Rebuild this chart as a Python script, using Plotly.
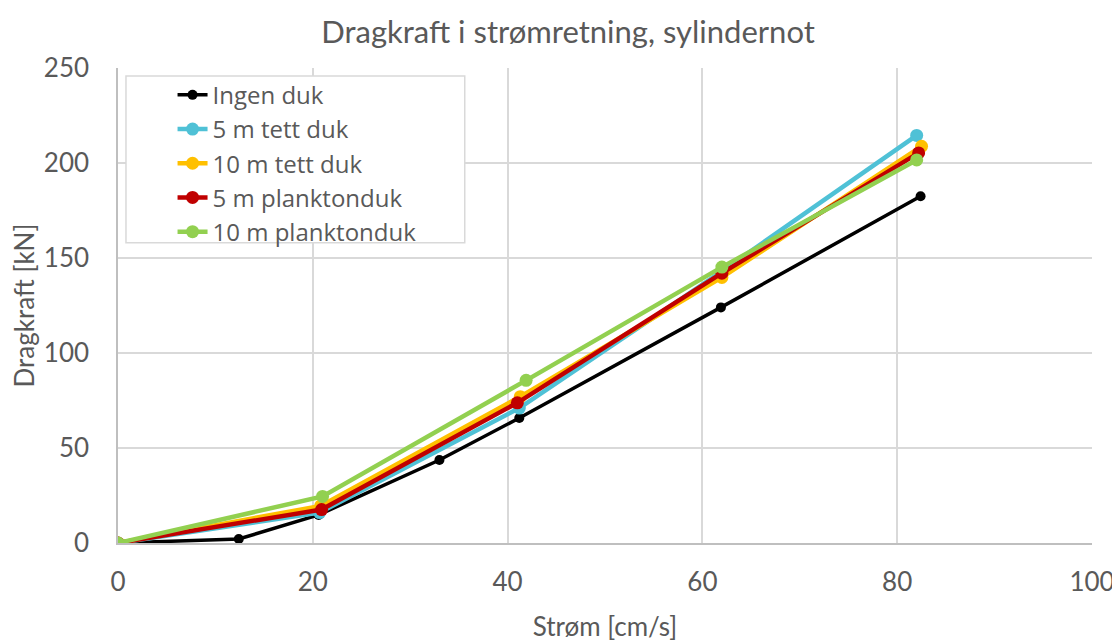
import plotly.graph_objects as go

# Strøm [cm/s] og dragkraft [kN] per serie
series_names = ['Ingen duk', '5 m tett duk', '10 m tett duk', '5 m planktonduk', '10 m planktonduk']

x_ingen = [0, 12.4, 20.6, 33.0, 41.2, 61.9, 82.4]
y_ingen = [0, 2.1, 14.8, 43.7, 65.8, 124.0, 182.5]

x_5tett = [0, 20.7, 41.2, 62.0, 82.0]
y_5tett = [0, 16.0, 71.0, 143.0, 214.5]

x_10tett = [0, 20.8, 41.3, 62.0, 82.5]
y_10tett = [0, 19.5, 77.0, 139.8, 208.8]

x_5plankton = [0, 20.9, 41.0, 62.0, 82.2]
y_5plankton = [0, 17.6, 73.8, 142.0, 205.3]

x_10plankton = [0, 21.0, 41.9, 62.0, 82.0]
y_10plankton = [0, 24.5, 85.6, 145.2, 201.6]

colors = ['#000000', '#4FC1D6', '#FFC000', '#C00000', '#92D050']
xs = [x_ingen, x_5tett, x_10tett, x_5plankton, x_10plankton]
ys = [y_ingen, y_5tett, y_10tett, y_5plankton, y_10plankton]

font = 'Lato, Open Sans, sans-serif'
grey = '#595959'

fig = go.Figure()
for i, (name, x, y, c) in enumerate(zip(series_names, xs, ys, colors)):
    width = 3.5 if i == 0 else 4.5
    size = 10 if i == 0 else 13
    fig.add_trace(go.Scatter(
        x=x, y=y, name=name, mode='lines+markers',
        line=dict(color=c, width=width),
        marker=dict(color=c, size=size),
    ))

# white legend box, drawn as a shape so it can be wider than plotly's own
fig.add_shape(type='rect', xref='paper', yref='paper',
              x0=0.0082, x1=0.356, y0=0.632, y1=0.983,
              fillcolor='white', line=dict(color='#D9D9D9', width=1.5), layer='above')

fig.update_layout(
    width=1120, height=640,
    paper_bgcolor='white', plot_bgcolor='white',
    margin=dict(l=110, r=36, t=60, b=105),
    font=dict(family=font, color=grey, size=26),
    title=dict(text='Dragkraft i strømretning, sylindernot', x=0.5, xanchor='center',
               y=0.98, yanchor='top', font=dict(size=31, color=grey, family=font)),
    xaxis=dict(
        range=[0, 100], dtick=20, showgrid=True, gridcolor='#D9D9D9', gridwidth=1.5,
        zeroline=False, showline=True, linecolor='#BFBFBF', linewidth=1.5,
        ticks='', tickfont=dict(size=26, color=grey), automargin=False,
        ticklabelstandoff=15,
        title=dict(text='Strøm [cm/s]', font=dict(size=26, color=grey), standoff=22),
    ),
    yaxis=dict(
        range=[0, 250], dtick=50, showgrid=True, gridcolor='#D9D9D9', gridwidth=1.5,
        zeroline=False, showline=True, linecolor='#BFBFBF', linewidth=1.5,
        ticks='', tickfont=dict(size=26, color=grey), automargin=False,
        ticklabelstandoff=22,
        title=dict(text='Dragkraft [kN]', font=dict(size=26, color=grey), standoff=2),
    ),
    legend=dict(
        x=0.056, y=0.99, xanchor='left', yanchor='top',
        bgcolor='rgba(0,0,0,0)', borderwidth=0,
        font=dict(size=24, color=grey, family='Open Sans, sans-serif'),
        tracegroupgap=0,
    ),
    showlegend=True,
)

fig.write_html('out.html')
